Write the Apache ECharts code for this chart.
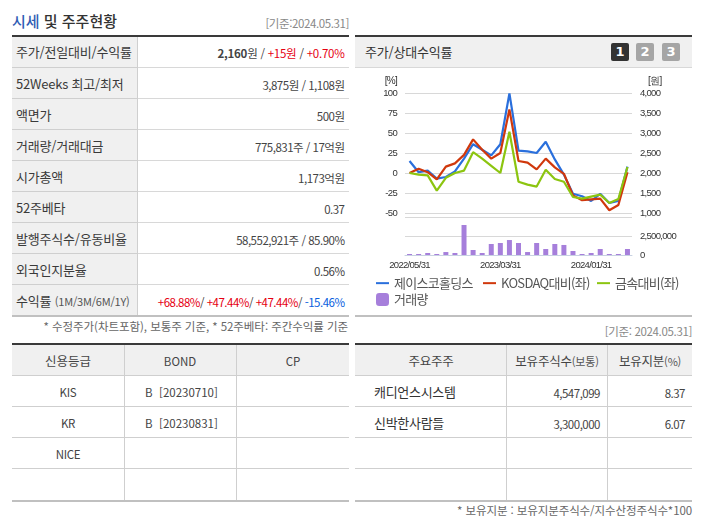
<!DOCTYPE html>
<html lang="ko"><head><meta charset="utf-8">
<script src="https://cdn.jsdelivr.net/npm/echarts@6/dist/echarts.min.js"></script>
<style>
html,body{margin:0;padding:0;background:#fff;width:702px;height:525px;overflow:hidden}
body{font-family:"Noto Sans CJK KR","Noto Sans",sans-serif;color:#333}
.r{position:absolute}
.t{position:absolute;white-space:nowrap;line-height:16px;font-size:12px}
#chart{position:absolute;left:0;top:0;width:702px;height:525px;z-index:5}
</style></head><body>
<div id="chart"></div>
<script>
const categories=['2022/05/31','2022/06/30','2022/07/29','2022/08/31','2022/09/30','2022/10/31','2022/11/30','2022/12/29','2023/01/31','2023/02/28','2023/03/31','2023/04/28','2023/05/31','2023/06/30','2023/07/31','2023/08/31','2023/09/27','2023/10/31','2023/11/30','2023/12/28','2024/01/31','2024/02/29','2024/03/29','2024/04/30','2024/05/31'];
const priceWon=[2300,2020,2060,1860,1900,2040,2360,2720,2580,2440,2720,3990,2560,2540,2500,2780,2340,1960,1480,1420,1300,1480,1250,1300,2160];
const kosdaqRel=[0,5.3,1,-8,8,12,22.6,42,29,18,25,79.5,15,13,4.5,18,7,-1,-28,-34,-33,-32,-46.5,-40,1];
const metalRel=[0,-2,-3,-22,-6,0,3,26,18,9,0,51.5,-11,-14.5,-17,4,-7.5,-11,-30,-32,-29.5,-27,-37.5,-32.5,7.5];
const volume=[130000,130000,260000,130000,390000,260000,3950000,660000,260000,1450000,1580000,1970000,1580000,390000,1580000,790000,1450000,1320000,530000,130000,260000,790000,130000,130000,790000];
const seriesNames=['제이스코홀딩스','KOSDAQ대비(좌)','금속대비(좌)','거래량'];
const seriesColors=['#2a6fdc','#d0380c','#8cc510','#a67fdb'];
const summaryLabels=['주가/전일대비/수익률','52Weeks 최고/최저','액면가','거래량/거래대금','시가총액','52주베타','발행주식수/유동비율','외국인지분율','수익률 <span style="font-size:11px;color:#555">(1M/3M/6M/1Y)</span>'];
const summaryValues=['<b>2,160</b>원 / <span style="color:#e60012">+15원</span> / <span style="color:#e60012">+0.70%</span>','3,875원 / 1,108원','500원','775,831주 / 17억원','1,173억원','0.37','58,552,921주 / 85.90%','0.56%','<span style="color:#e60012">+68.88%</span>/ <span style="color:#e60012">+47.44%</span>/ <span style="color:#e60012">+47.44%</span>/ <span style="color:#0a5fe0">-15.46%</span>'];
const summaryRowLines=[67,98,129,160,191,222,253,284];
const creditHeader=['신용등급','BOND','CP'];
const creditAgency=['KIS','KR','NICE'];
const creditBond=['B &nbsp;[20230710]','B &nbsp;[20230831]',''];
const holderHeader=['주요주주','보유주식수<span style="font-size:11px;color:#555">(보통)</span>','보유지분<span style="font-size:11px;color:#555">(%)</span>'];
const holderNames=['캐디언스시스템','신박한사람들'];
const holderShares=['4,547,099','3,300,000'];
const holderPct=['8.37','6.07'];

// the reference's chart text is set tightly, so canvas text gets the same tracking
const nativeGetContext=HTMLCanvasElement.prototype.getContext;
HTMLCanvasElement.prototype.getContext=function(...a){const c=nativeGetContext.apply(this,a);if(c&&a[0]==='2d'&&'letterSpacing' in c)c.letterSpacing='-0.7px';return c;};

const body=document.body;
function box(x,y,w,h,c){const d=document.createElement('div');d.className='r';d.style.cssText=`left:${x}px;top:${y}px;width:${w}px;height:${h}px;background:${c}`;body.appendChild(d);return d;}
function text(s,x,y,o={}){const d=document.createElement('div');d.className='t';d.innerHTML=s;
 let st=`top:${y-8}px;font-size:${o.size||12}px;color:${o.color||'#333'};letter-spacing:${o.ls||0}px;`;
 if(o.align==='right')st+=`right:${702-x}px;`;else if(o.align==='center')st+=`left:${x-100}px;width:200px;text-align:center;`;else st+=`left:${x}px;`;
 if(o.weight)st+=`font-weight:${o.weight};`;
 d.style.cssText+=st;body.appendChild(d);return d;}
const G='#cfcfcf',HB='#f0f0f0',DK='#3a3a3a',TH='#c0c0c0';
// left summary
text('<span style="color:#2f5cb4">시세</span> 및 주주현황',12,21,{size:15,weight:500});
text('[기준:2024.05.31]',349,23,{align:'right',color:'#888',size:11.5,ls:-0.4});
box(12,37,125,278,HB);
box(12,35,337,2,DK);
summaryRowLines.forEach(y=>box(12,y,337,1,'#d8d8d8'));
summaryRowLines.forEach(y=>box(12,y,125,1,G));
box(137,37,1,278,G);
box(12,315,337,2,TH);
const rowMid=[52,84,115,146,177,208,239,270,301];
summaryLabels.forEach((s,i)=>text(s,16,rowMid[i],{size:13,color:'#3a3a3a',ls:-0.2}));
summaryValues.forEach((s,i)=>text(s,344.5,rowMid[i]+1,{align:'right',size:11.5,ls:i===0?-0.25:-0.5,color:'#444'}));
text('* 수정주가(차트포함), 보통주 기준, * 52주베타: 주간수익률 기준',348,326,{align:'right',color:'#666',size:11.5,ls:-0.06});
// chart panel
box(355,35,337,2,DK);box(355,37,337,30,HB);box(355,67,337,1,'#d8d8d8');
text('주가/상대수익률',365,52,{size:13,ls:-0.2});
[[611,'#333','1'],[636,'#a5a5a5','2'],[662,'#a5a5a5','3']].forEach(b=>{const d=box(b[0],43,18,18,b[1]);d.style.borderRadius='2px';d.style.color='#fff';d.style.font='bold 13px "DejaVu Sans"';d.style.textAlign='center';d.style.lineHeight='18px';d.textContent=b[2];});
box(355,315,337,2,TH);
text('[기준: 2024.05.31]',692,331,{align:'right',color:'#888',size:11.5,ls:-0.35});
// credit table
box(12,345,337,30,HB);box(12,343,337,2,DK);
[375,406,437,468].forEach(y=>box(12,y,337,1,G));
box(124,345,1,155,G);box(236,345,1,155,G);box(12,500,337,2,TH);
const creditMid=[361,392,423,454];
creditHeader.forEach((s,i)=>text(s,[68,180,293][i],creditMid[0],{align:'center',size:i?11.5:12.5,color:'#444'}));
creditAgency.forEach((s,i)=>text(s,68,creditMid[i+1],{align:'center',size:11.5,color:'#444',ls:-0.3}));
creditBond.forEach((s,i)=>text(s,145,creditMid[i+1],{size:11.5,color:'#444',ls:0}));
// holder table
box(355,345,337,30,HB);box(355,343,337,2,DK);
[375,406,437,468].forEach(y=>box(355,y,337,1,G));
box(506,345,1,155,G);box(607,345,1,155,G);box(355,500,337,2,TH);
holderHeader.forEach((s,i)=>text(s,[431,557,650][i],361,{align:'center',size:12.5,color:'#444',ls:-0.2}));
holderNames.forEach((s,i)=>text(s,374,creditMid[i+1],{size:13,ls:-0.3}));
holderShares.forEach((s,i)=>text(s,600,creditMid[i+1]+1,{align:'right',size:11.5,ls:-0.5,color:'#444'}));
holderPct.forEach((s,i)=>text(s,685,creditMid[i+1]+1,{align:'right',size:11.5,ls:-0.5,color:'#444'}));
text('* 보유지분 : 보유지분주식수/지수산정주식수*100',692,510,{align:'right',color:'#666',size:11.5,ls:-0.1});

const chart=echarts.init(document.getElementById('chart'),null,{renderer:'canvas'});
const axisFont={fontFamily:'Liberation Sans',fontSize:9.5,color:'#333'};
const split={show:true,lineStyle:{color:'#d8d8d8',width:1}};
const linePath='path://M0 5.5H13V7.5H0Z';
const legendAt=(i,left,top,icon)=>({left,top,padding:0,itemWidth:13,itemHeight:13,itemGap:0,
  textStyle:{fontFamily:'Noto Sans CJK KR',fontSize:13,color:'#555',padding:[0,0,0,0]},
  data:[{name:seriesNames[i],icon}]});
chart.setOption({
 animation:false,backgroundColor:'transparent',
 grid:[{left:405,top:93,width:227,height:120},{left:405,top:217,width:227,height:38}],
 legend:[legendAt(0,376,277,linePath),legendAt(1,483,277,linePath),legendAt(2,597,277,linePath),legendAt(3,376,293,'roundRect')],
 xAxis:[
  {type:'category',gridIndex:0,data:categories,axisLine:{show:false},axisTick:{show:false},axisLabel:{show:false}},
  {type:'category',gridIndex:1,data:categories,axisLine:{lineStyle:{color:'#c8d2e2'}},
   axisTick:{length:5,lineStyle:{color:'#c8d2e2'},interval:i=>i===0||i%10===1},
   axisLabel:{...axisFont,margin:6,interval:i=>i%10===0}}
 ],
 yAxis:[
  {type:'value',gridIndex:0,min:-50,max:100,interval:25,name:'[%]',nameLocation:'end',nameGap:7,
   nameTextStyle:{...axisFont,fontSize:10,align:'right',padding:[0,8,0,0]},axisLine:{show:false},axisTick:{show:false},axisLabel:{...axisFont,margin:8,padding:[2,0,0,0]},splitLine:split},
  {type:'value',gridIndex:0,position:'right',min:1000,max:4000,interval:500,name:'[원]',nameLocation:'end',nameGap:7,
   nameTextStyle:{...axisFont,fontSize:10,align:'left',padding:[0,0,0,16]},axisLine:{show:false},axisTick:{show:false},axisLabel:{...axisFont,margin:8,padding:[2,0,0,0],formatter:v=>v.toLocaleString('en-US')},splitLine:{show:false}},
  {type:'value',gridIndex:1,position:'right',min:0,max:5000000,interval:2500000,axisLine:{show:false},axisTick:{show:false},
   axisLabel:{...axisFont,margin:8,padding:[2,0,0,0],formatter:v=>v===5000000?'':v.toLocaleString('en-US')},splitLine:split}
 ],
 series:[
  {name:seriesNames[3],type:'bar',xAxisIndex:1,yAxisIndex:2,data:volume,barWidth:5,itemStyle:{color:seriesColors[3]}},
  {name:seriesNames[0],type:'line',xAxisIndex:0,yAxisIndex:1,data:priceWon,symbol:'none',itemStyle:{color:seriesColors[0]},lineStyle:{color:seriesColors[0],width:2.2}},
  {name:seriesNames[1],type:'line',xAxisIndex:0,yAxisIndex:0,data:kosdaqRel,symbol:'none',itemStyle:{color:seriesColors[1]},lineStyle:{color:seriesColors[1],width:2.2}},
  {name:seriesNames[2],type:'line',xAxisIndex:0,yAxisIndex:0,data:metalRel,symbol:'none',itemStyle:{color:seriesColors[2]},lineStyle:{color:seriesColors[2],width:2.2}}
 ]
});
</script></body></html>
